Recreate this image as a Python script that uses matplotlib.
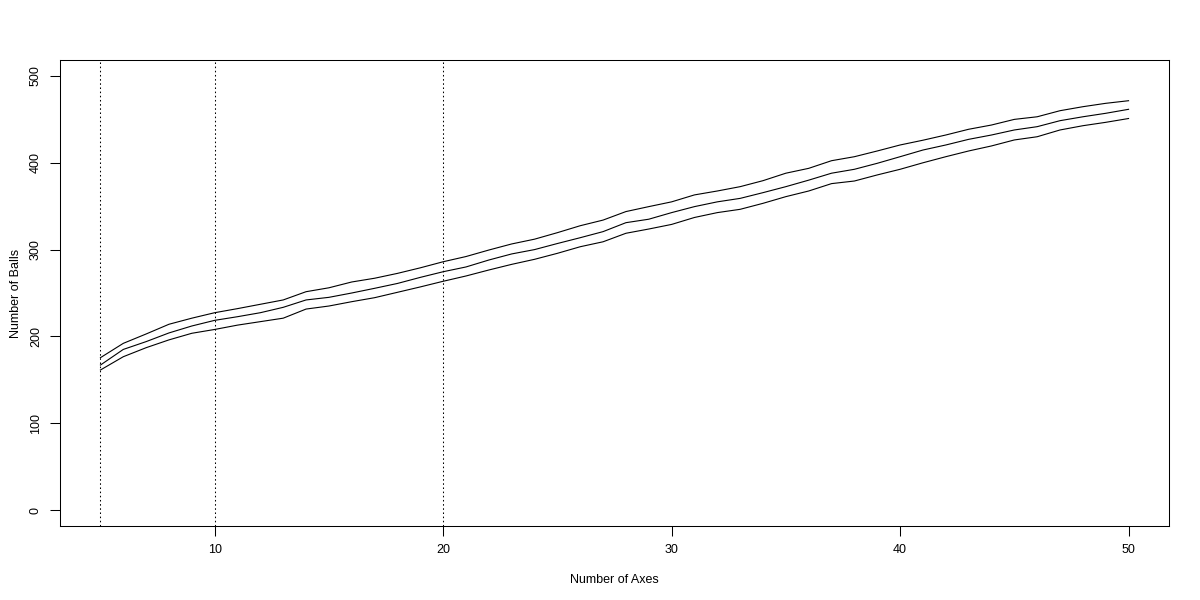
import matplotlib
matplotlib.use("Agg")
import matplotlib.pyplot as plt

plt.rcParams['font.family'] = ['Liberation Sans', 'DejaVu Sans']

axes_n = list(range(5, 51))
upper = [175.5, 192, 202.8, 214, 221, 227.3, 232, 237, 242, 251.5,
         256, 262.7, 267, 272.6, 279, 286, 292, 299.5, 306.5, 312,
         319.5, 327.5, 334, 343.8, 349.5, 355, 363, 367.5, 372.5, 379.4,
         388, 393.6, 402.4, 407, 413.6, 420.5, 426, 432, 438.6, 443.5,
         450, 453, 460, 464.6, 468.5, 471.5]
middle = [167, 185, 194, 204, 212, 218.5, 222.7, 227.3, 233.5, 242,
          245, 250, 255.4, 261, 268, 274.5, 280, 288, 295, 300,
          307, 313.7, 320.7, 331, 335, 342.6, 349.5, 355, 359, 365.6,
          372.5, 380, 388, 392.5, 399.4, 407, 414.7, 420.5, 427, 432,
          437.8, 441.6, 448.5, 453, 457, 461.6]
lower = [161.3, 176.6, 187, 196, 203.6, 208, 213, 217, 221, 231.5,
         235, 240, 244.6, 250.8, 257, 263.5, 269.6, 276.5, 283, 288.8,
         295.7, 303.3, 309, 318.8, 323.7, 329, 337, 342.6, 346.4, 353.3,
         361, 367.5, 376, 379, 386, 392.5, 400, 407, 413.6, 419.4,
         426.3, 430, 437.8, 442.7, 446.6, 451]
vlines = [5, 10, 20]
xticks = [10, 20, 30, 40, 50]
yticks = [0, 100, 200, 300, 400, 500]

fig = plt.figure(figsize=(12, 6), dpi=100)
ax = fig.add_axes([60/1200, 1-526/600, (1169-60)/1200, (526-60)/600])

for s in (upper, middle, lower):
    ax.plot(axes_n, s, color='black', linewidth=0.8)
for v in vlines:
    ax.axvline(v, color='black', linewidth=0.75, linestyle=(0, (1.5, 2.5)))

ax.set_xlim(3.23, 51.77)
ax.set_ylim(-18.4, 518.4)
ax.set_xticks(xticks)
ax.set_yticks(yticks)
ax.set_xticklabels([str(t) for t in xticks])
ax.set_yticklabels([str(t) for t in yticks], rotation=90, va='center')
ax.tick_params(direction='out', length=7, width=0.75, labelsize=9, pad=6)
for sp in ax.spines.values():
    sp.set_linewidth(0.75)
ax.set_xlabel('Number of Axes', fontsize=9, labelpad=13)
ax.set_ylabel('Number of Balls', fontsize=9, labelpad=6)

fig.savefig('out.png', dpi=100)
